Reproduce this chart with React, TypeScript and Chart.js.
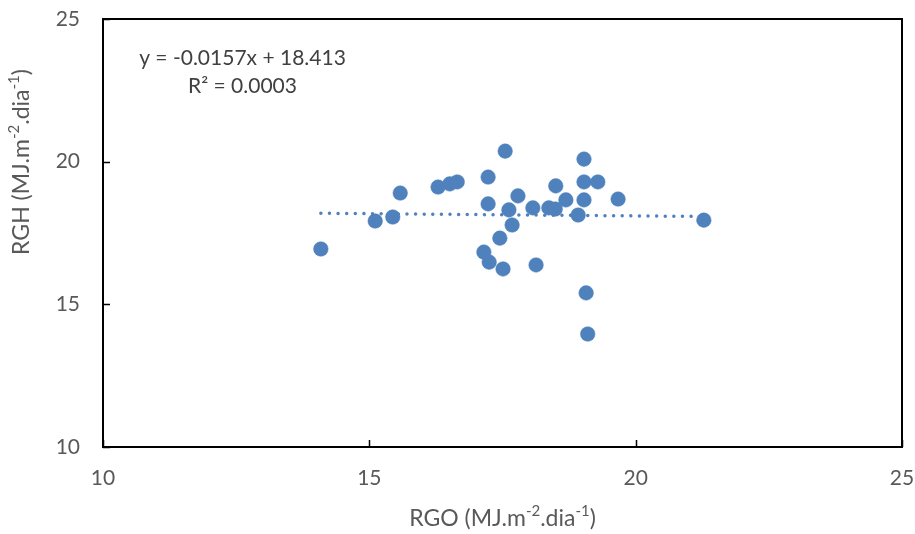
import React, { useEffect, useRef } from "react";
import { Chart, registerables } from "chart.js";

Chart.register(...registerables);

// RGO (x) and RGH (y) observations, MJ.m-2.dia-1
const rgo = [
  14.09, 15.11, 15.44, 15.58, 16.29, 16.51, 16.65, 17.23, 17.23, 17.15, 17.25,
  17.45, 17.55, 17.51, 17.62, 17.68, 17.79, 18.07, 18.13, 18.37, 18.49, 18.5,
  18.69, 18.92, 19.03, 19.03, 19.03, 19.29, 19.07, 19.1, 19.67, 21.28,
];
const rgh = [
  16.94, 17.92, 18.06, 18.9, 19.11, 19.22, 19.29, 19.46, 18.52, 16.83, 16.48,
  17.32, 20.37, 16.24, 18.31, 17.78, 18.8, 18.38, 16.38, 18.38, 18.34, 19.15,
  18.66, 18.13, 20.09, 19.29, 18.66, 19.29, 15.4, 13.96, 18.69, 17.95,
];

const trendSlope = -0.0157;
const trendIntercept = 18.413;
const equationText = "y = -0.0157x + 18.413";
const r2Text = "R² = 0.0003";

const xTicks = [10, 15, 20, 25];
const yTicks = [10, 15, 20, 25];

const xTitleParts = [
  { t: "RGO (MJ.m", sup: false },
  { t: "-2", sup: true },
  { t: ".dia", sup: false },
  { t: "-1", sup: true },
  { t: ")", sup: false },
];
const yTitleParts = [
  { t: "RGH (MJ.m", sup: false },
  { t: "-2", sup: true },
  { t: ".dia", sup: false },
  { t: "-1", sup: true },
  { t: ")", sup: false },
];

const BLUE = "#4F81BD";
const FONT = "Lato";
const GREY = "#595959";

function drawRich(ctx: CanvasRenderingContext2D, parts: { t: string; sup: boolean }[], cx: number, baseY: number) {
  const main = `23px ${FONT}`;
  const small = `15px ${FONT}`;
  let total = 0;
  const widths = parts.map((p) => {
    ctx.font = p.sup ? small : main;
    const w = ctx.measureText(p.t).width;
    total += w;
    return w;
  });
  let x = cx - total / 2;
  ctx.textAlign = "left";
  ctx.textBaseline = "alphabetic";
  parts.forEach((p, i) => {
    ctx.font = p.sup ? small : main;
    ctx.fillText(p.t, x, p.sup ? baseY - 10 : baseY);
    x += widths[i];
  });
}

const overlay = {
  id: "overlay",
  afterDraw(chart: any) {
    const { ctx, chartArea: a } = chart;
    const xs = chart.scales.x;
    const ys = chart.scales.y;
    ctx.save();
    ctx.strokeStyle = "#000";
    ctx.lineWidth = 2;
    ctx.strokeRect(a.left, a.top, a.right - a.left, a.bottom - a.top);
    ctx.lineWidth = 1.5;
    ctx.beginPath();
    for (const v of xTicks) {
      const px = Math.round(xs.getPixelForValue(v)) + 0.5;
      ctx.moveTo(px, a.bottom);
      ctx.lineTo(px, a.bottom - 7);
    }
    for (const v of yTicks) {
      const py = Math.round(ys.getPixelForValue(v)) + 0.5;
      ctx.moveTo(a.left, py);
      ctx.lineTo(a.left + 7, py);
    }
    ctx.stroke();

    // trendline equation
    ctx.fillStyle = "#404040";
    ctx.font = `21px ${FONT}`;
    ctx.textAlign = "center";
    ctx.textBaseline = "alphabetic";
    ctx.fillText(equationText, 242.5, 65);
    ctx.fillText(r2Text, 242.5, 93);

    // axis titles
    ctx.fillStyle = GREY;
    drawRich(ctx, xTitleParts, (a.left + a.right) / 2, 526);
    ctx.save();
    ctx.translate(29, 162);
    ctx.rotate(-Math.PI / 2);
    drawRich(ctx, yTitleParts, 0, 0);
    ctx.restore();
    ctx.restore();
  },
};

export default function App() {
  const ref = useRef<HTMLCanvasElement | null>(null);
  useEffect(() => {
    if (!ref.current) return;
    const points = rgo.map((x, i) => ({ x, y: rgh[i] }));
    const xMin = Math.min(...rgo);
    const xMax = Math.max(...rgo);
    const trend = [
      { x: xMin, y: trendSlope * xMin + trendIntercept },
      { x: xMax, y: trendSlope * xMax + trendIntercept },
    ];
    const chart = new Chart(ref.current, {
      type: "scatter",
      data: {
        datasets: [
          {
            data: points,
            backgroundColor: BLUE,
            borderColor: BLUE,
            borderWidth: 0.5,
            pointRadius: 7.3,
            pointHoverRadius: 7.3,
            order: 1,
          },
          {
            type: "line",
            data: trend,
            borderColor: BLUE,
            borderWidth: 3.5,
            borderDash: [0.01, 8.6],
            borderCapStyle: "round",
            pointRadius: 0,
            fill: false,
            order: 2,
          } as any,
        ],
      },
      options: {
        responsive: false,
        animation: false,
        events: [],
        layout: { padding: { top: 19, right: 13, left: 0, bottom: 0 } },
        plugins: { legend: { display: false }, tooltip: { enabled: false }, title: { display: false } },
        scales: {
          x: {
            type: "linear",
            min: 10,
            max: 25,
            grid: { display: false, drawTicks: false },
            border: { display: false },
            ticks: { stepSize: 5, color: GREY, font: { family: FONT, size: 21 }, padding: 19 },
            afterFit: (s: any) => {
              s.height = 87;
              s.paddingLeft = 0;
              s.paddingRight = 0;
            },
          },
          y: {
            type: "linear",
            min: 10,
            max: 25,
            grid: { display: false, drawTicks: false },
            border: { display: false },
            ticks: { stepSize: 5, color: GREY, font: { family: FONT, size: 21 }, padding: 23 },
            afterFit: (s: any) => {
              s.width = 103;
              s.paddingTop = 0;
              s.paddingBottom = 0;
            },
          },
        },
      },
      plugins: [overlay],
    });
    return () => chart.destroy();
  }, []);
  return (
    <div style={{ position: "absolute", left: 0, top: 0, width: 915, height: 534 }}>
      <canvas ref={ref} width={915} height={534} style={{ display: "block" }} />
    </div>
  );
}
